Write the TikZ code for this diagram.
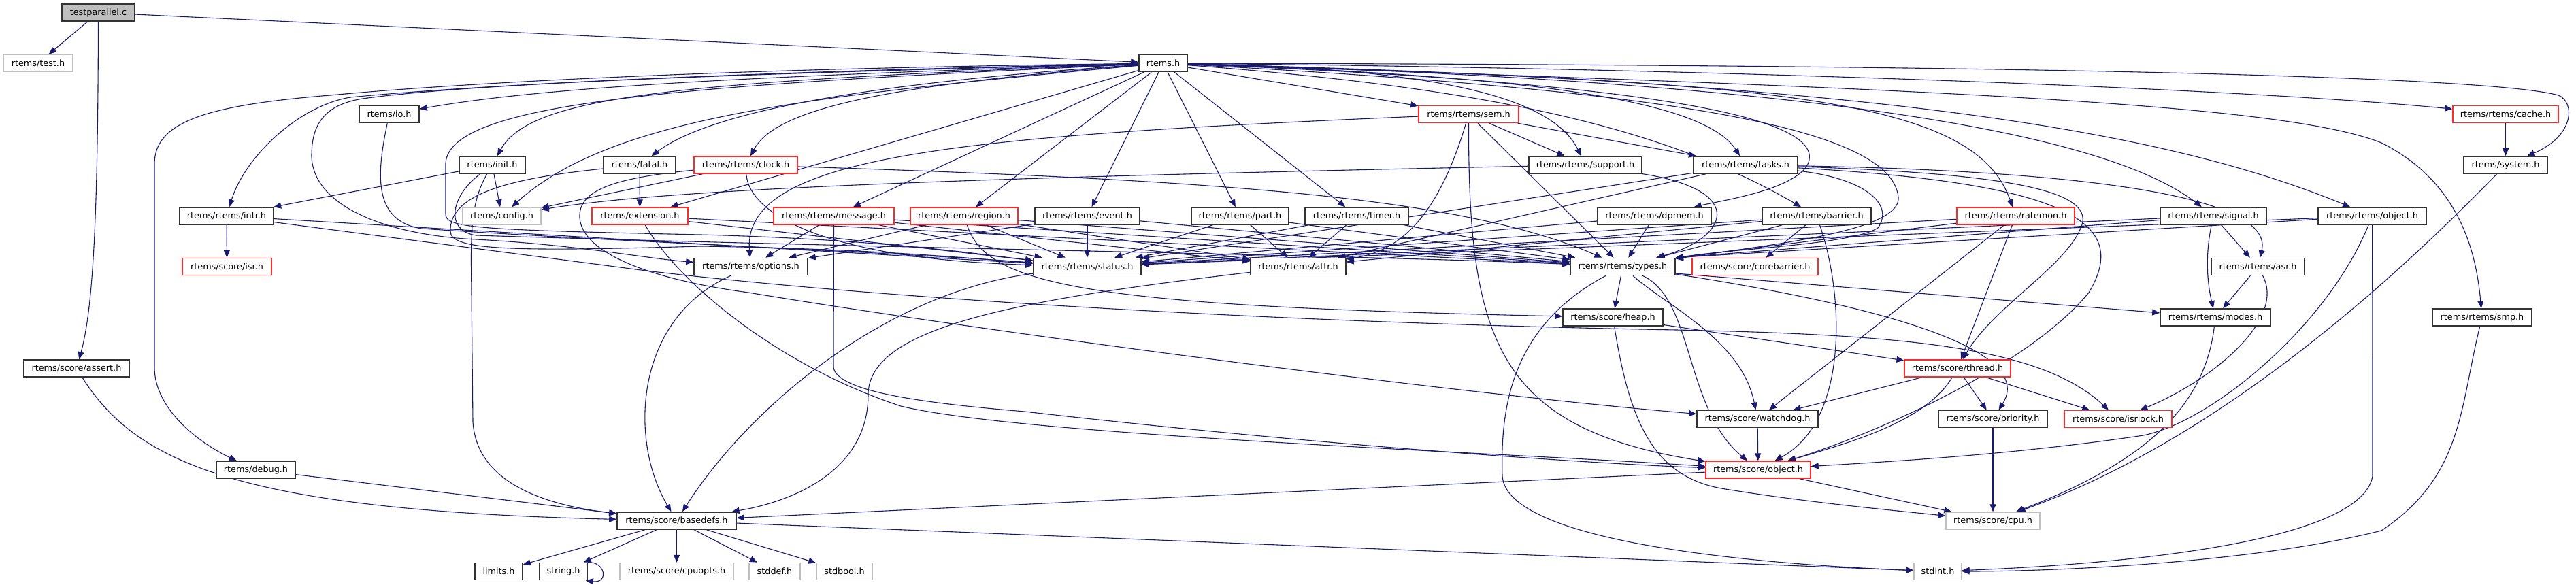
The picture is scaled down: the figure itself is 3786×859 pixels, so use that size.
\documentclass[tikz,border=0pt]{standalone}
\usepackage{fontspec}
\setmainfont{DejaVu Sans}
\usetikzlibrary{arrows.meta}
\pgfdeclarelayer{back}
\pgfdeclarelayer{bg}
\pgfsetlayers{back,bg,main}
\definecolor{edgec}{HTML}{191970}
\definecolor{redb}{HTML}{FF2A2A}
\definecolor{grayb}{HTML}{BFBFBF}
\definecolor{darkb}{HTML}{333333}
\tikzset{
  nb/.style={draw=darkb, line width=1.6pt, fill=white, minimum height=25pt, inner sep=0pt, anchor=center},
  nr/.style={nb, draw=redb, line width=1.4pt},
  ng/.style={nb, draw=grayb, line width=1.4pt},
  ed/.style={draw=edgec, line width=1.1pt, -{Triangle[length=11pt,width=9pt]}}
}
\begin{document}
\begin{tikzpicture}[x=1pt,y=-1pt,font=\fontsize{12.8}{15}\selectfont]
\begin{pgfonlayer}{back}
\path[use as bounding box, fill=white] (0,0) rectangle (3786,859);
\end{pgfonlayer}
% ---------- nodes ----------
\node[nb, fill=grayb, minimum width=107pt] (tp) at (144.5,18.5) {testparallel.c};
\node[ng, minimum width=102pt] (test) at (56,93) {rtems/test.h};
\node[nb, minimum width=71pt] (rtemsh) at (1709.5,93) {rtems.h};
\node[nb, minimum width=88pt] (io) at (572,168) {rtems/io.h};
\node[nr, minimum width=147pt] (sem) at (2158.5,168) {rtems/rtems/sem.h};
\node[nr, minimum width=155pt] (cache) at (3682.5,168) {rtems/rtems/cache.h};
\node[nb, minimum width=97pt] (init) at (723.5,242.5) {rtems/init.h};
\node[nb, minimum width=106pt] (fatal) at (940,242.5) {rtems/fatal.h};
\node[nr, minimum width=152pt] (clock) at (1096,242.5) {rtems/rtems/clock.h};
\node[nb, minimum width=166pt] (support) at (2330,242.5) {rtems/rtems/support.h};
\node[nb, minimum width=153pt] (tasks) at (2565.5,242.5) {rtems/rtems/tasks.h};
\node[nb, minimum width=123pt] (system) at (3682.5,242.5) {rtems/system.h};
\node[nb, minimum width=138pt] (intr) at (333,317.5) {rtems/rtems/intr.h};
\node[ng, minimum width=115pt] (config) at (737.5,317.5) {rtems/config.h};
\node[nr, minimum width=141pt] (ext) at (940.5,317.5) {rtems/extension.h};
\node[nr, minimum width=177pt] (msg) at (1225.5,317.5) {rtems/rtems/message.h};
\node[nr, minimum width=158pt] (region) at (1417,317.5) {rtems/rtems/region.h};
\node[nb, minimum width=154pt] (event) at (1598,317.5) {rtems/rtems/event.h};
\node[nb, minimum width=143pt] (part) at (1822.5,317.5) {rtems/rtems/part.h};
\node[nb, minimum width=152pt] (timer) at (1994,317.5) {rtems/rtems/timer.h};
\node[nb, minimum width=167pt] (dpmem) at (2431.5,317.5) {rtems/rtems/dpmem.h};
\node[nb, minimum width=160pt] (barrier) at (2670,317.5) {rtems/rtems/barrier.h};
\node[nr, minimum width=173pt] (ratemon) at (2962.5,317.5) {rtems/rtems/ratemon.h};
\node[nb, minimum width=156pt] (signal) at (3253,317.5) {rtems/rtems/signal.h};
\node[nb, minimum width=159pt] (robject) at (3486.5,317.5) {rtems/rtems/object.h};
\node[nr, minimum width=131pt] (isr) at (333.5,392) {rtems/score/isr.h};
\node[nb, minimum width=167pt] (options) at (1103.5,392) {rtems/rtems/options.h};
\node[nb, minimum width=158pt] (status) at (1598,392) {rtems/rtems/status.h};
\node[nb, minimum width=140pt] (attr) at (1908,392) {rtems/rtems/attr.h};
\node[nb, minimum width=154pt] (types) at (2385,392) {rtems/rtems/types.h};
\node[nr, minimum width=185pt] (corebar) at (2579.5,392) {rtems/score/corebarrier.h};
\node[nb, minimum width=137pt] (asr) at (3318.5,392) {rtems/rtems/asr.h};
\node[nb, minimum width=147pt] (heap) at (2370.5,466.5) {rtems/score/heap.h};
\node[nb, minimum width=162pt] (modes) at (3256,466.5) {rtems/rtems/modes.h};
\node[nb, minimum width=146pt] (smp) at (3648,466.5) {rtems/rtems/smp.h};
\node[nb, minimum width=155pt] (assert) at (112.5,541.5) {rtems/score/assert.h};
\node[nr, minimum width=156pt] (thread) at (2877,541.5) {rtems/score/thread.h};
\node[nb, minimum width=178pt] (watchdog) at (2583,616) {rtems/score/watchdog.h};
\node[nb, minimum width=160pt] (priority) at (2929,616) {rtems/score/priority.h};
\node[nr, minimum width=158pt] (isrlock) at (3113,616) {rtems/score/isrlock.h};
\node[nb, minimum width=116pt] (debug) at (376,690.5) {rtems/debug.h};
\node[nr, minimum width=154pt] (object) at (2584,690.5) {rtems/score/object.h};
\node[nb, minimum width=175pt] (basedefs) at (994.5,765.5) {rtems/score/basedefs.h};
\node[ng, minimum width=138pt] (cpu) at (2929,765.5) {rtems/score/cpu.h};
\node[nb, minimum width=70pt] (limits) at (733,840) {limits.h};
\node[nb, minimum width=70pt] (string) at (828,840) {string.h};
\node[ng, minimum width=167pt] (cpuopts) at (994.5,840) {rtems/score/cpuopts.h};
\node[ng, minimum width=75pt] (stddef) at (1138.5,840) {stddef.h};
\node[ng, minimum width=82pt] (stdbool) at (1241,840) {stdbool.h};
\node[ng, minimum width=70pt] (stdint) at (2848,840) {stdint.h};
% ---------- edges ----------
\begin{pgfonlayer}{bg}
% testparallel.c
\draw[ed] (tp) -- (rtemsh);
\draw[ed] (tp) -- (test);
\draw[ed] (tp) .. controls (144,300) and (138,450) .. (assert);
\draw[ed] (assert) .. controls (200,680) and (350,750) .. (basedefs);
\draw[ed] (debug) -- (basedefs);
% rtems.h
\draw[ed] (rtemsh) .. controls (1100,100) and (700,120) .. (485,140) .. controls (300,155) and (228,180) .. (227,240) -- (227,540) .. controls (227,600) and (290,650) .. (debug);
\draw[ed] (rtemsh) .. controls (1100,105) and (700,125) .. (515,143) .. controls (440,155) and (360,230) .. (intr);
\draw[ed] (rtemsh) .. controls (1100,112) and (800,128) .. (io);
\draw[ed] (rtemsh) .. controls (1000,120) and (780,140) .. (init);
\draw[ed] (rtemsh) .. controls (1200,140) and (900,170) .. (config);
\draw[ed] (rtemsh) .. controls (1300,120) and (1050,160) .. (fatal);
\draw[ed] (rtemsh) .. controls (1300,125) and (1140,160) .. (clock);
\draw[ed] (rtemsh) -- (ext);
\draw[ed] (rtemsh) -- (msg);
\draw[ed] (rtemsh) -- (region);
\draw[ed] (rtemsh) -- (event);
\draw[ed] (rtemsh) -- (part);
\draw[ed] (rtemsh) -- (timer);
\draw[ed] (rtemsh) -- (sem);
\draw[ed] (rtemsh) .. controls (2100,100) and (2280,140) .. (support);
\draw[ed] (rtemsh) .. controls (2200,110) and (2500,140) .. (tasks);
\draw[ed] (rtemsh) .. controls (2400,120) and (2700,170) .. (2655,245) .. controls (2630,280) and (2530,295) .. (dpmem);
\draw[ed] (rtemsh) .. controls (2200,130) and (2450,190) .. (barrier);
\draw[ed] (rtemsh) .. controls (2600,120) and (2900,140) .. (ratemon);
\draw[ed] (rtemsh) .. controls (2700,120) and (3100,200) .. (signal);
\draw[ed] (rtemsh) .. controls (2800,120) and (3200,200) .. (robject);
\draw[ed] (rtemsh) .. controls (2500,100) and (3300,130) .. (cache);
\draw[ed] (rtemsh) .. controls (2900,95) and (3650,110) .. (3760,140) .. controls (3785,150) and (3784,200) .. (system);
\draw[ed] (rtemsh) .. controls (2800,130) and (3350,150) .. (3500,210) .. controls (3620,270) and (3640,380) .. (smp);
\draw[ed] (rtemsh) .. controls (1100,108) and (700,122) .. (533,145) .. controls (470,155) and (458,190) .. (458,230) .. controls (460,300) and (560,345) .. (700,352) .. controls (850,360) and (950,380) .. (options);
\draw[ed] (rtemsh) .. controls (1000,125) and (660,150) .. (655,240) -- (655,315) .. controls (655,335) and (700,338) .. (1030,345) .. controls (1300,352) and (1450,375) .. (status);
\draw[ed] (rtemsh) .. controls (2400,130) and (2780,180) .. (2790,290) .. controls (2795,340) and (2600,360) .. (types);
% init.h
\draw[ed] (init) -- (intr);
\draw[ed] (init) -- (config);
\draw[ed] (init) .. controls (690,300) and (692,350) .. (693,430) -- (695,620) .. controls (700,700) and (780,740) .. (basedefs);
\draw[ed] (init) .. controls (660,290) and (655,340) .. (700,346) .. controls (1300,365) and (2000,375) .. (types);
% io.h
\draw[ed] (io) .. controls (555,250) and (545,325) .. (620,336) .. controls (900,355) and (1300,370) .. (status);
% fatal.h
\draw[ed] (fatal) -- (ext);
\draw[ed] (fatal) .. controls (750,262) and (660,285) .. (662,340) .. controls (662,368) and (750,370) .. (1030,362) .. controls (1300,366) and (1450,382) .. (status);
% clock.h
\draw[ed] (clock) -- (config);
\draw[ed] (clock) .. controls (1100,310) and (1200,380) .. (status);
\draw[ed] (clock) .. controls (1800,265) and (2150,290) .. (types);
\draw[ed] (clock) .. controls (900,262) and (850,280) .. (852,320) .. controls (855,370) and (950,410) .. (1100,430) .. controls (1400,480) and (2100,575) .. (watchdog);
% extension.h
\draw[ed] (ext) -- (status);
\draw[ed] (ext) -- (types);
\draw[ed] (ext) .. controls (1000,420) and (1150,540) .. (1324,597) .. controls (1500,640) and (2200,665) .. (object);
% message.h
\draw[ed] (msg) -- (options);
\draw[ed] (msg) -- (status);
\draw[ed] (msg) -- (attr);
\draw[ed] (msg) -- (types);
\draw[ed] (msg) -- (1225,540) .. controls (1230,575) and (1350,592) .. (1506,605) .. controls (1900,650) and (2300,680) .. (object);
% region.h
\draw[ed] (region) -- (options);
\draw[ed] (region) -- (status);
\draw[ed] (region) -- (attr);
\draw[ed] (region) -- (types);
\draw[ed] (region) .. controls (1450,420) and (1600,450) .. (heap);
% event.h
\draw[ed] (event) -- (options);
\draw[ed] (event) -- (status);
\draw[ed] (event) -- (types);
% part.h
\draw[ed] (part) -- (attr);
\draw[ed] (part) -- (status);
\draw[ed] (part) -- (types);
% timer.h
\draw[ed] (timer) -- (attr);
\draw[ed] (timer) -- (status);
\draw[ed] (timer) -- (types);
% sem.h
\draw[ed] (sem) .. controls (1400,200) and (1090,230) .. (options);
\draw[ed] (sem) -- (support);
\draw[ed] (sem) -- (tasks);
\draw[ed] (sem) .. controls (2110,330) and (2050,370) .. (attr);
\draw[ed] (sem) -- (types);
\draw[ed] (sem) .. controls (2158,500) and (2200,630) .. (object);
% support.h
\draw[ed] (support) .. controls (1500,260) and (1000,275) .. (config);
\draw[ed] (support) .. controls (2570,280) and (2540,350) .. (types);
% tasks.h
\draw[ed] (tasks) -- (status);
\draw[ed] (tasks) -- (attr);
\draw[ed] (tasks) .. controls (2740,262) and (2785,300) .. (2760,335) .. controls (2720,360) and (2550,365) .. (types);
\draw[ed] (tasks) .. controls (3000,250) and (3345,280) .. (asr);
\draw[ed] (tasks) .. controls (2950,255) and (3075,280) .. (3060,330) .. controls (3040,390) and (2930,450) .. (thread);
\draw[ed] (tasks) .. controls (3050,270) and (3130,330) .. (3070,430) .. controls (2980,540) and (2750,640) .. (object);
% dpmem.h
\draw[ed] (dpmem) -- (status);
\draw[ed] (dpmem) -- (types);
% barrier.h
\draw[ed] (barrier) -- (attr);
\draw[ed] (barrier) -- (status);
\draw[ed] (barrier) -- (types);
\draw[ed] (barrier) -- (corebar);
\draw[ed] (barrier) .. controls (2712,440) and (2715,620) .. (object);
% ratemon.h
\draw[ed] (ratemon) -- (status);
\draw[ed] (ratemon) -- (types.north east);
\draw[ed] (ratemon) -- (thread);
\draw[ed] (ratemon) -- (watchdog);
% signal.h
\draw[ed] (signal) -- (asr);
\draw[ed] (signal) .. controls (3240,380) and (3245,420) .. (modes);
\draw[ed] (signal) -- (types.north east);
\draw[ed] (signal) -- (status);
% object.h (rtems)
\draw[ed] (robject) -- (types.north east);
\draw[ed] (robject) -- (status);
\draw[ed] (robject) .. controls (3420,480) and (3250,620) .. (3150,640) .. controls (2950,670) and (2750,680) .. (object);
\draw[ed] (robject) .. controls (3487,500) and (3487,640) .. (3487,700) .. controls (3470,800) and (3100,830) .. (stdint);
% cache, system, smp
\draw[ed] (cache) -- (system);
\draw[ed] (system) .. controls (3500,430) and (3250,650) .. (cpu);
\draw[ed] (smp) .. controls (3615,600) and (3620,700) .. (3500,780) .. controls (3300,830) and (3000,840) .. (stdint);
% asr, modes
\draw[ed] (asr) -- (modes);
\draw[ed] (asr) .. controls (3360,470) and (3250,560) .. (isrlock);
\draw[ed] (modes) .. controls (3240,600) and (3150,680) .. (cpu);
% types.h
\draw[ed] (types) -- (heap);
\draw[ed] (types) .. controls (2490,440) and (2475,600) .. (object);
\draw[ed] (types) .. controls (2450,450) and (2560,500) .. (watchdog);
\draw[ed] (types) .. controls (2220,480) and (2205,600) .. (2208,700) .. controls (2215,800) and (2600,830) .. (stdint);
\draw[ed] ([yshift=-10pt]types.east) -- (modes);
\draw[ed] ([yshift=-11pt]types.east) .. controls (2800,455) and (2990,520) .. (priority);
% heap.h
\draw[ed] (heap) -- (thread);
\draw[ed] (heap) .. controls (2395,620) and (2430,700) .. (2530,718) .. controls (2650,738) and (2780,750) .. (cpu);
% thread.h
\draw[ed] (thread) -- (watchdog);
\draw[ed] (thread) -- (priority);
\draw[ed] (thread) -- (isrlock);
\draw[ed] (thread) .. controls (2830,620) and (2720,650) .. (object);
% watchdog, priority, object
\draw[ed] (watchdog) -- (object);
\draw[ed] (priority) -- (cpu);
\draw[ed] (object) -- (basedefs);
\draw[ed] (object) -- (cpu);
% status, options, attr
\draw[ed] (status) .. controls (1300,430) and (1100,600) .. (basedefs);
\draw[ed] (options) .. controls (930,470) and (925,650) .. (basedefs);
\draw[ed] (attr) .. controls (1500,440) and (1276,480) .. (1276,580) .. controls (1276,700) and (1150,740) .. (basedefs);
% intr.h
\draw[ed] (intr) -- (isr);
\draw[ed] (intr) -- (status);
\draw[ed] (intr) -- (950,398) .. controls (1300,440) and (1900,475) .. (2464,485) .. controls (2800,492) and (3000,510) .. (isrlock);
% basedefs.h
\draw[ed] (basedefs) -- (limits);
\draw[ed] (basedefs) -- (string);
\draw[ed] (basedefs) -- (cpuopts);
\draw[ed] (basedefs) -- (stddef);
\draw[ed] (basedefs) -- (stdbool);
\draw[ed] (basedefs) -- (stdint);
\draw[ed] (string.north east) .. controls (890,825) and (895,858) .. ([xshift=-3pt]string.south east);
\end{pgfonlayer}
\end{tikzpicture}
\end{document}
